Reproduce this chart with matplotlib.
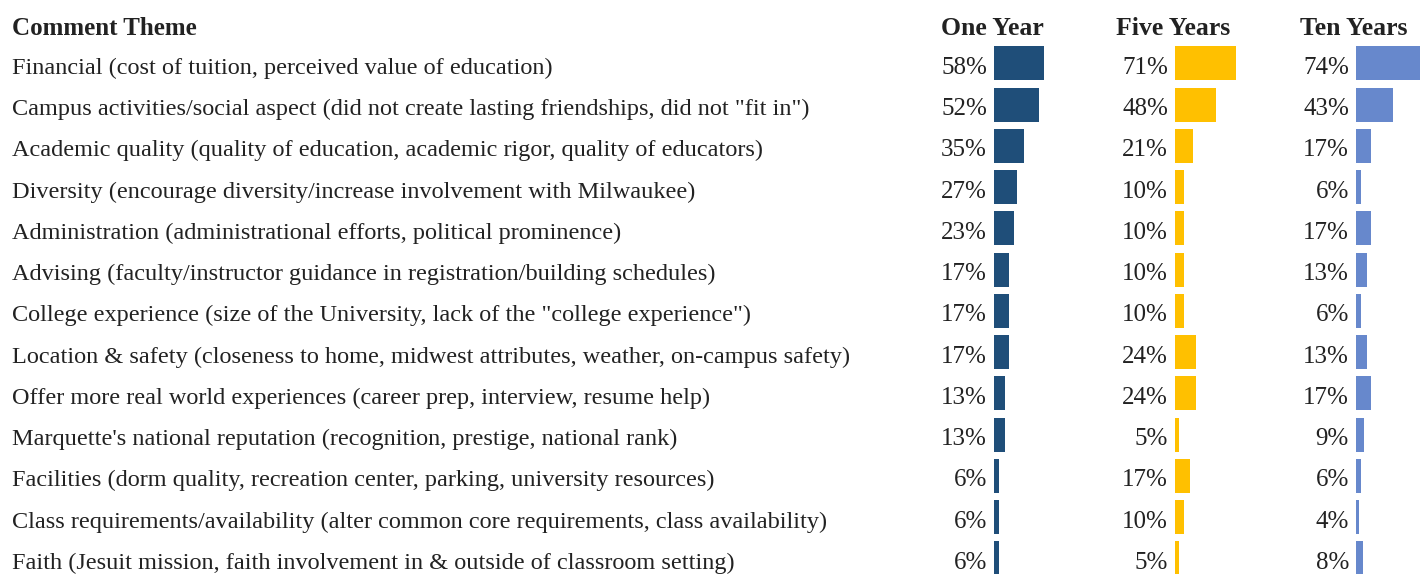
import numpy as np
import matplotlib
matplotlib.use('Agg')
import matplotlib.pyplot as plt

plt.rcParams['font.family'] = ['Liberation Serif', 'DejaVu Serif']

themes = [
    'Financial (cost of tuition, perceived value of education)',
    'Campus activities/social aspect (did not create lasting friendships, did not "fit in")',
    'Academic quality (quality of education, academic rigor, quality of educators)',
    'Diversity (encourage diversity/increase involvement with Milwaukee)',
    'Administration (administrational efforts, political prominence)',
    'Advising (faculty/instructor guidance in registration/building schedules)',
    'College experience (size of the University, lack of the "college experience")',
    'Location & safety (closeness to home, midwest attributes, weather, on-campus safety)',
    'Offer more real world experiences (career prep, interview, resume help)',
    "Marquette's national reputation (recognition, prestige, national rank)",
    'Facilities (dorm quality, recreation center, parking, university resources)',
    'Class requirements/availability (alter common core requirements, class availability)',
    'Faith (Jesuit mission, faith involvement in & outside of classroom setting)',
]
one_year = [58, 52, 35, 27, 23, 17, 17, 17, 13, 13, 6, 6, 6]
five_years = [71, 48, 21, 10, 10, 10, 10, 24, 24, 5, 17, 10, 5]
ten_years = [74, 43, 17, 6, 17, 13, 6, 13, 17, 9, 6, 4, 8]

columns = ['One Year', 'Five Years', 'Ten Years']
colors = ['#1F4E79', '#FFC000', '#6788CC']

W, H = 1427, 574
fig = plt.figure(figsize=(W / 100, H / 100), dpi=100)
ax = fig.add_axes([0, 0, 1, 1])
ax.set_xlim(0, W)
ax.set_ylim(H, 0)
ax.axis('off')

row_y = 63.3 + 41.25 * np.arange(len(themes))
bar_left = [994, 1175, 1356]
px_per_pct = 0.86
txt = '#222222'

ax.text(12, 35, 'Comment Theme', fontsize=18, fontweight='bold', va='baseline', ha='left', color=txt)
for name, x0 in zip(columns, bar_left):
    ax.text(x0 - 2, 35, name, fontsize=18.5, fontweight='bold', va='baseline', ha='center', color=txt)

for y, t in zip(row_y, themes):
    ax.text(12, y + 10.5, t, fontsize=17.5, va='baseline', ha='left', color=txt)

for vals, x0, c in zip([one_year, five_years, ten_years], bar_left, colors):
    vals = np.array(vals)
    ax.barh(row_y, vals * px_per_pct, left=x0, height=34, color=c)
    for y, v in zip(row_y, vals):
        ax.text(x0 - 7, y + 10.5, f'{v}%', fontsize=18, va='baseline', ha='right', color=txt)

fig.savefig('out.png', dpi=100)
